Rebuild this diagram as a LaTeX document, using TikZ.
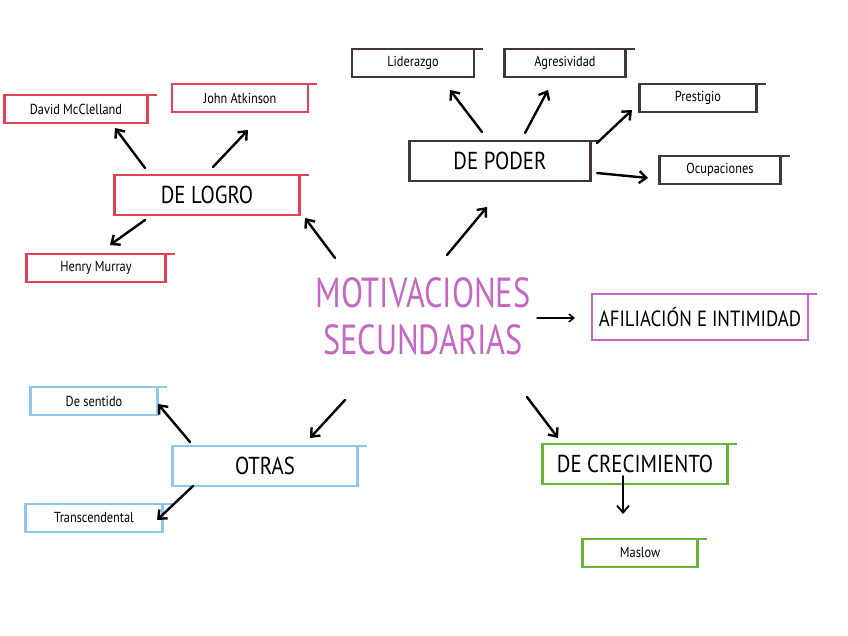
\documentclass[tikz,border=0pt]{standalone}
\usepackage{fontspec}
\setmainfont{PT Sans}[FakeStretch=0.85]
\newfontfamily\titlefont{PT Sans}[FakeStretch=0.77]
\usetikzlibrary{arrows.meta,calc}
\definecolor{logrored}{RGB}{226,66,82}
\definecolor{poderdark}{RGB}{64,54,54}
\definecolor{titlepurple}{RGB}{196,104,196}
\definecolor{otrasblue}{RGB}{140,200,238}
\definecolor{crecegreen}{RGB}{104,180,52}

\tikzset{
  sketch/.style={draw=#1, line width=2.2pt, inner sep=0pt, outer sep=0pt, minimum height=28pt,
    append after command={(\tikzlastnode.north east) edge[draw=#1, line width=1.4pt] ++(9,0)}},
  leaf/.style={sketch=#1, font=\fontsize{14.5}{17}\selectfont},
  branch/.style={sketch=#1, line width=2.8pt, minimum height=40pt, font=\fontsize{24.5}{28}\selectfont},
  arr/.style={-{Straight Barb[length=7pt,width=12pt]}, line width=2.4pt, line cap=round},
}

\begin{document}
\begin{tikzpicture}[x=1pt, y=-1pt]
  \useasboundingbox (0,0) rectangle (848,636);

  % centre
  \node[font=\titlefont\fontsize{42}{47}\selectfont, text=titlepurple, align=center] (centre) at (423,316)
    {MOTIVACIONES\\SECUNDARIAS};

  % de logro
  \node[branch=logrored, minimum width=185pt] (logro) at (207,195) {DE LOGRO};
  \node[leaf=logrored, minimum width=143pt] (mcclelland) at (76,109) {David McClelland};
  \node[leaf=logrored, minimum width=136pt] (atkinson) at (240,98) {John Atkinson};
  \node[leaf=logrored, minimum width=139pt] (murray) at (96,268) {Henry Murray};

  % de poder
  \node[branch=poderdark, minimum width=181pt] (poder) at (500,161) {DE PODER};
  \node[leaf=poderdark, minimum width=122pt] (liderazgo) at (413,63) {Liderazgo};
  \node[leaf=poderdark, minimum width=121pt] (agresividad) at (565,63) {Agresividad};
  \node[leaf=poderdark, minimum width=117pt] (prestigio) at (698,98) {Prestigio};
  \node[leaf=poderdark, minimum width=121pt] (ocupaciones) at (720,170) {Ocupaciones};

  % afiliacion
  \node[branch=titlepurple, minimum width=216pt, minimum height=46pt, font=\fontsize{22}{26}\selectfont] (afiliacion) at (700,317) {AFILIACIÓN E INTIMIDAD};

  % otras
  \node[branch=otrasblue, minimum width=185pt] (otras) at (265,466) {OTRAS};
  \node[leaf=otrasblue, minimum width=127pt] (sentido) at (94,401) {De sentido};
  \node[leaf=otrasblue, minimum width=137pt] (transcendental) at (94,518) {Transcendental};

  % de crecimiento
  \node[branch=crecegreen, minimum width=185pt] (crecimiento) at (635,464) {DE CRECIMIENTO};
  \node[leaf=crecegreen, minimum width=115pt] (maslow) at (640,553) {Maslow};

  % arrows
  \draw[arr] ($(centre)+(-88,-58)$) -- ($(logro)+(98,23)$);
  \draw[arr] ($(logro)+(-62,-27)$) -- ($(mcclelland)+(39,19)$);
  \draw[arr] ($(logro)+(6,-28)$) -- ($(atkinson)+(8,32)$);
  \draw[arr] ($(logro)+(-62,25)$) -- ($(murray)+(14,-23)$);
  \draw[arr] ($(centre)+(24,-61)$) -- ($(poder)+(-13,46)$);
  \draw[arr] ($(poder)+(-18,-29)$) -- ($(liderazgo)+(37,27)$);
  \draw[arr] ($(poder)+(25,-28)$) -- ($(agresividad)+(-17,27)$);
  \draw[arr] ($(poder)+(97,-18)$) -- ($(prestigio)+(-66,12)$);
  \draw[arr] ($(poder)+(97,12)$) -- ($(ocupaciones)+(-72,8)$);
  \draw[arr, line width=1.5pt, -{Straight Barb[length=5pt,width=8pt]}] ($(centre)+(114,2)$) -- ($(afiliacion)+(-125,1)$);
  \draw[arr] ($(centre)+(-78,84)$) -- ($(otras)+(45,-28)$);
  \draw[arr] ($(otras)+(-75,-24)$) -- ($(sentido)+(64,3)$);
  \draw[arr] ($(otras)+(-72,20)$) -- ($(transcendental)+(63,2)$);
  \draw[arr] ($(centre)+(104,81)$) -- ($(crecimiento)+(-77,-26)$);
  \draw[arr, line width=1.8pt] ($(crecimiento)+(-12,12)$) -- ($(maslow)+(-17,-39)$);
\end{tikzpicture}
\end{document}
